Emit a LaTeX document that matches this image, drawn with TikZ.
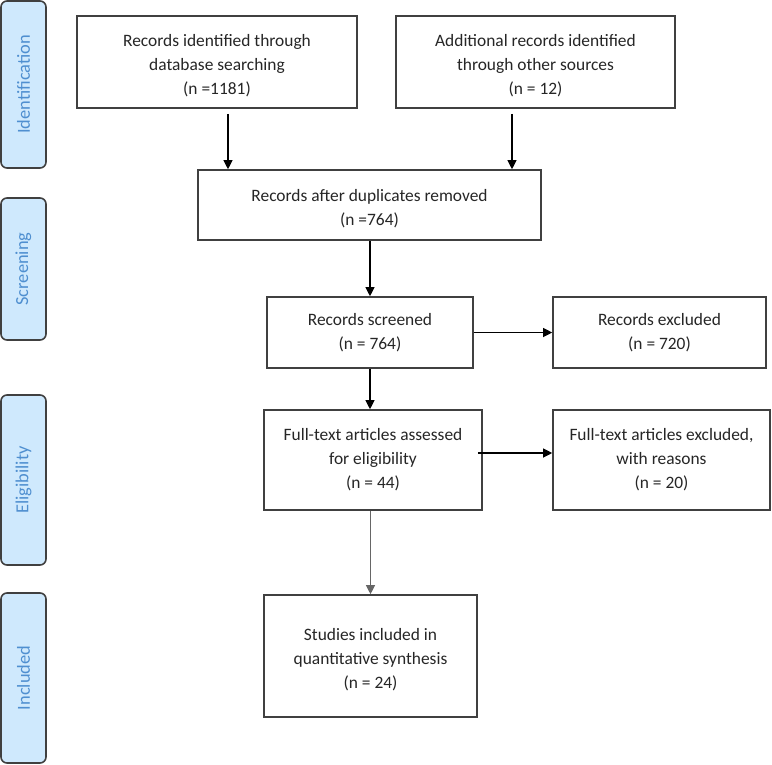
\documentclass[tikz,border=0pt]{standalone}
\usepackage{fontspec}
\setmainfont{Carlito}
\usetikzlibrary{arrows.meta}
\definecolor{boxline}{HTML}{404040}
\definecolor{sidefill}{HTML}{CFE9FD}
\definecolor{sidetext}{HTML}{4F8FD0}
\definecolor{txt}{HTML}{262626}
\begin{document}
\begin{tikzpicture}[x=1pt,y=-1pt,
  flowbox/.style={draw=boxline,line width=1.6pt,fill=white,align=center,text=txt,
    font=\fontsize{17.4}{24}\selectfont,inner sep=0pt},
  sidebox/.style={draw=boxline,line width=1.6pt,fill=sidefill,rounded corners=6pt,
    minimum width=45pt,text=sidetext,font=\fontsize{18.4}{20}\selectfont,inner sep=0pt},
  arr/.style={draw=black,line width=1.1pt,-{Triangle[width=9pt,length=9pt]}},
  arrgray/.style={draw=gray!80!black,line width=0.9pt,-{Triangle[width=9pt,length=9pt]}}]
\useasboundingbox (0,0) rectangle (772,764);
% side labels
\node[sidebox,minimum height=167pt] (sid) at (23.5,84.5) {\rotatebox{90}{Identification}};
\node[sidebox,minimum height=142pt] (ssc) at (23.5,269) {\rotatebox{90}{Screening}};
\node[sidebox,minimum height=170pt] (sel) at (23.5,480) {\rotatebox{90}{Eligibility}};
\node[sidebox,minimum height=170pt] (sin) at (23.5,678) {\rotatebox{90}{Included}};
% flow boxes
\node[flowbox,minimum width=280pt,minimum height=92pt] (b1) at (217,62)
  {\rule{0pt}{20pt}Records identified through\\database searching\\(n =1181)};
\node[flowbox,minimum width=279pt,minimum height=92pt] (b2) at (535.5,62)
  {\rule{0pt}{20pt}Additional records identified\\through other sources\\(n = 12)};
\node[flowbox,minimum width=343pt,minimum height=70pt] (b3) at (369.5,205)
  {\rule{0pt}{20pt}Records after duplicates removed\\(n =764)};
\node[flowbox,minimum width=206pt,minimum height=71pt] (b4) at (370,332.5)
  {Records screened\\(n = 764)};
\node[flowbox,minimum width=213pt,minimum height=71pt] (b5) at (659.5,332.5)
  {Records excluded\\(n = 720)};
\node[flowbox,minimum width=218pt,minimum height=100pt] (b6) at (373,460)
  {Full-text articles assessed\\for eligibility\\(n = 44)};
\node[flowbox,minimum width=217pt,minimum height=100pt] (b7) at (661.5,460)
  {Full-text articles excluded,\\with reasons\\(n = 20)};
\node[flowbox,minimum width=213pt,minimum height=122pt] (b8) at (370.5,656)
  {\rule{0pt}{20pt}Studies included in\\quantitative synthesis\\(n = 24)};
% connectors
\coordinate (a1) at ([xshift=11pt,yshift=-5pt]b1.south);
\coordinate (a2) at ([xshift=-23.5pt,yshift=-5pt]b2.south);
\draw[arr] (a1) -- (a1 |- b3.north);
\draw[arr] (a2) -- (a2 |- b3.north);
\draw[arr] (b3.south -| b4.north) -- (b4.north);
\draw[arr] (b4.east) -- (b4.east -| b5.west);
\draw[arr] (b4.south) -- (b4.south |- b6.north);
\coordinate (a6) at ([xshift=-5pt,yshift=7pt]b6.east);
\draw[arr] (a6) -- (a6 -| b7.west);
\draw[arrgray] (b6.south -| b8.north) -- (b8.north);
\end{tikzpicture}
\end{document}
